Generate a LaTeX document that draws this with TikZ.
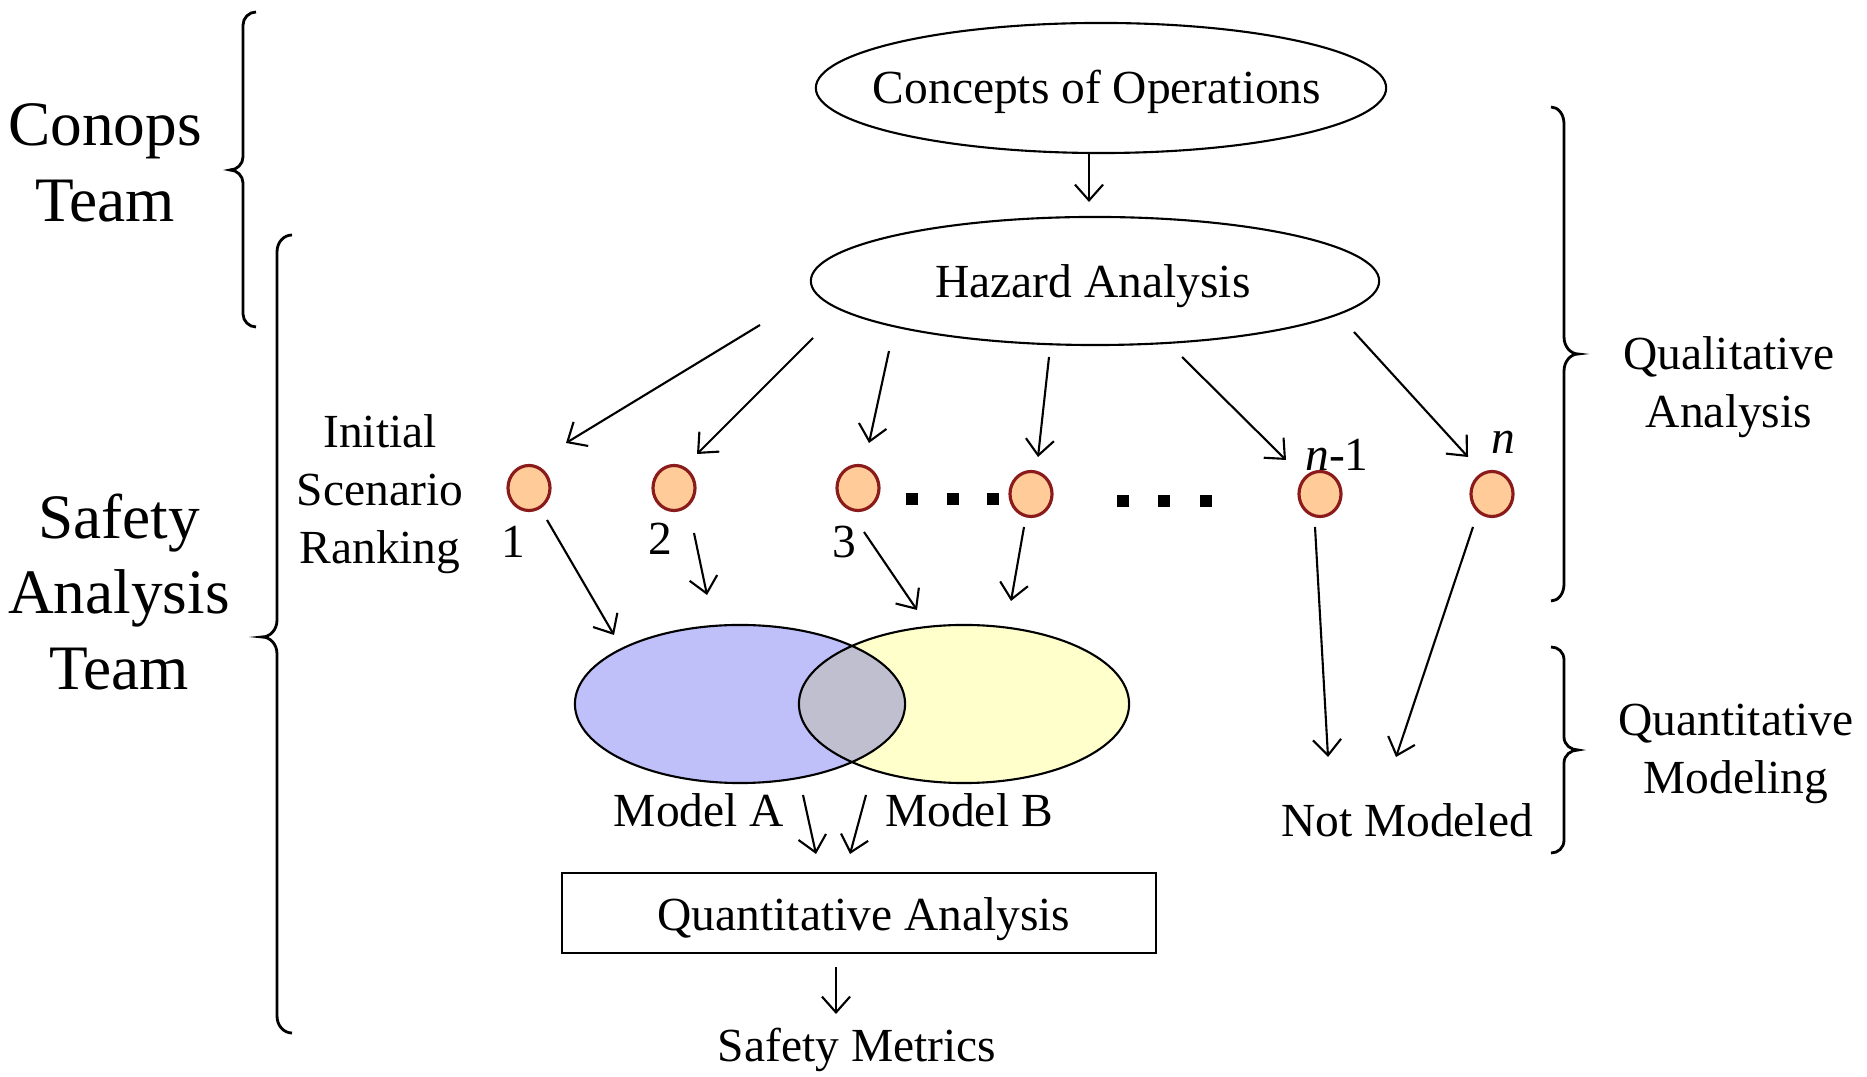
\documentclass[tikz,border=0pt]{standalone}
\usepackage{fontspec}
\setmainfont{Liberation Serif}
\usetikzlibrary{arrows.meta,shapes.geometric}
\definecolor{peach}{HTML}{FFCC99}
\definecolor{darkred}{HTML}{8B1A1A}
\definecolor{vennA}{HTML}{BFBFFA}
\definecolor{vennB}{HTML}{FFFFCC}
\definecolor{vennAB}{HTML}{BFBFD0}
\begin{document}
\begin{tikzpicture}[x=0.01cm,y=-0.01cm,
  lbl/.style={font=\fontsize{13.5}{16.4}\selectfont, align=center, inner sep=0pt},
  big/.style={font=\fontsize{18}{21.5}\selectfont, align=center, inner sep=0pt},
  arr/.style={-{Straight Barb[length=4.5pt,width=8pt]}, line width=0.6pt},
  scen/.style={ellipse, draw=darkred, fill=peach, line width=0.9pt, minimum width=0.42cm, minimum height=0.45cm, inner sep=0pt},
  sq/.style={fill=black, inner sep=0pt, minimum size=0.12cm},
  oval/.style={ellipse, draw, line width=0.6pt, inner sep=0pt, outer sep=0pt},
  bracestyle/.style={line width=0.8pt}]
\useasboundingbox (0,0) rectangle (1867,1077);

% top ellipses
\node[oval, minimum width=5.7cm, minimum height=1.3cm] (conc) at (1101,88) {};
\node[lbl] (conct) at (1097,92) {Concepts of Operations};
\node[oval, minimum width=5.68cm, minimum height=1.28cm] (haz) at (1095,281) {};
\node[lbl] (hazt) at (1093,286) {Hazard Analysis};
\coordinate (c1) at (1089,154); \coordinate (c2) at (1089,202);
\draw[arr] (c1) -- (c2);

% scenario circles
\node[scen] (s1) at (529,488) {};
\node[scen] (s2) at (674,488) {};
\node[scen] (s3) at (858,488) {};
\node[scen] (s4) at (1031,494) {};
\node[scen] (s5) at (1320,494) {};
\node[scen] (s6) at (1492,494) {};
\node[sq] (d1) at (912,499) {};
\node[sq] (d2) at (953,499) {};
\node[sq] (d3) at (993,499) {};
\node[sq] (d4) at (1123,501) {};
\node[sq] (d5) at (1164,501) {};
\node[sq] (d6) at (1206,501) {};
\node[lbl] (l1) at (513,542) {1};
\node[lbl] (l2) at (660,539) {2};
\node[lbl] (l3) at (844,542) {3};
\node[lbl] (l5) at (1337,455) {\textit{n}-1};
\node[lbl] (l6) at (1503,442) {\textit{n}};
\node[lbl] (isr) at (380,494) {Initial\\Scenario\\Ranking};

% arrows from hazard analysis
\coordinate (h1a) at (760,325); \coordinate (h1b) at (566,443);
\coordinate (h2a) at (813,338); \coordinate (h2b) at (697,454);
\coordinate (h3a) at (889,351); \coordinate (h3b) at (869,443);
\coordinate (h4a) at (1049,357); \coordinate (h4b) at (1038,457);
\coordinate (h5a) at (1182,357); \coordinate (h5b) at (1286,460);
\coordinate (h6a) at (1354,332); \coordinate (h6b) at (1468,457);
\draw[arr] (h1a) -- (h1b);
\draw[arr] (h2a) -- (h2b);
\draw[arr] (h3a) -- (h3b);
\draw[arr] (h4a) -- (h4b);
\draw[arr] (h5a) -- (h5b);
\draw[arr] (h6a) -- (h6b);

% Venn diagram
\fill[vennB] (964,704) ellipse [x radius=1.65cm, y radius=0.79cm];
\fill[vennA] (740,704) ellipse [x radius=1.65cm, y radius=0.79cm];
\begin{scope}
  \clip (740,704) ellipse [x radius=1.65cm, y radius=0.79cm];
  \fill[vennAB] (964,704) ellipse [x radius=1.65cm, y radius=0.79cm];
\end{scope}
\node[oval, minimum width=3.3cm, minimum height=1.58cm] (mA) at (740,704) {};
\node[oval, minimum width=3.3cm, minimum height=1.58cm] (mB) at (964,704) {};
\node[lbl] (mAt) at (699,810) {Model A};
\node[lbl] (mBt) at (969,810) {Model B};
\node[lbl] (nm) at (1407,820) {Not Modeled};

% arrows from circles
\coordinate (s1a) at (547,520); \coordinate (s1b) at (614,635);
\coordinate (s2a) at (694,533); \coordinate (s2b) at (707,595);
\coordinate (s3a) at (864,532); \coordinate (s3b) at (917,610);
\coordinate (s4a) at (1024,527); \coordinate (s4b) at (1011,601);
\coordinate (s5a) at (1315,527); \coordinate (s5b) at (1328,757);
\coordinate (s6a) at (1473,527); \coordinate (s6b) at (1396,757);
\draw[arr] (s1a) -- (s1b);
\draw[arr] (s2a) -- (s2b);
\draw[arr] (s3a) -- (s3b);
\draw[arr] (s4a) -- (s4b);
\draw[arr] (s5a) -- (s5b);
\draw[arr] (s6a) -- (s6b);

% model arrows
\coordinate (ma) at (803,795); \coordinate (mb) at (816,854);
\coordinate (mc) at (866,795); \coordinate (md) at (850,854);
\draw[arr] (ma) -- (mb);
\draw[arr] (mc) -- (md);

% quantitative analysis box
\node[draw, line width=0.6pt, minimum width=5.94cm, minimum height=0.8cm, inner sep=0pt] (qa) at (859,913) {};
\node[lbl] (qat) at (864,919) {Quantitative Analysis};
\coordinate (qa1) at (836,967); \coordinate (qa2) at (836,1014);
\draw[arr] (qa1) -- (qa2);
\node[lbl] (sm) at (857,1050) {Safety Metrics};

% left labels
\node[big] (conops) at (105,163) {Conops\\Team};
\node[big] (safety) at (119,592) {Safety\\Analysis\\Team};
% right labels
\node[lbl] (qual) at (1729,387) {Qualitative\\Analysis};
\node[lbl] (quant) at (1736,754) {Quantitative\\Modeling};

% braces
\draw[bracestyle] (256,12) .. controls (249,12) and (243,18) .. (243,25) -- (243,157) .. controls (243,164) and (237,170) .. (230,170) .. controls (237,170) and (243,176) .. (243,183) -- (243,314) .. controls (243,321) and (249,327) .. (256,327);
\draw[bracestyle] (292,235) .. controls (284,235) and (277,242) .. (277,252) -- (277,620) .. controls (277,630) and (270,637) .. (262,637) .. controls (270,637) and (277,644) .. (277,654) -- (277,1016) .. controls (277,1026) and (284,1033) .. (292,1033);
\draw[bracestyle] (1551,107) .. controls (1558,107) and (1564,114) .. (1564,124) -- (1564,337) .. controls (1564,347) and (1571,354) .. (1578,354) .. controls (1571,354) and (1564,361) .. (1564,371) -- (1564,584) .. controls (1564,594) and (1558,601) .. (1551,601);
\draw[bracestyle] (1551,647) .. controls (1558,647) and (1564,652) .. (1564,660) -- (1564,737) .. controls (1564,745) and (1571,750) .. (1578,750) .. controls (1571,750) and (1564,755) .. (1564,763) -- (1564,840) .. controls (1564,848) and (1558,853) .. (1551,853);
\end{tikzpicture}
\end{document}
